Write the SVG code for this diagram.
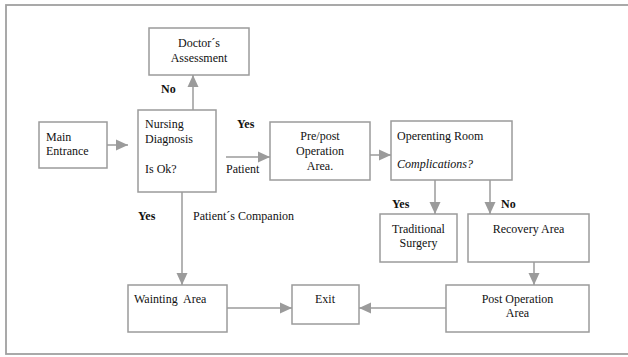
<svg xmlns="http://www.w3.org/2000/svg" width="628" height="357" viewBox="0 0 628 357">
<style>
.box{fill:#fff;stroke:#9b9b9b;stroke-width:1.5}
.frame{fill:#fff;stroke:#a0a0a0;stroke-width:1.8}
.ln{fill:none;stroke:#9b9b9b;stroke-width:1.5}
text{font-family:'Liberation Serif',serif;font-size:12px;fill:#111}
.b{font-weight:bold}
.i{font-style:italic}
.m{text-anchor:middle}
</style>
<defs>
<marker id="ah" markerWidth="12" markerHeight="12" refX="12" refY="6" orient="auto" markerUnits="userSpaceOnUse">
<path d="M0,0.5 L12,6 L0,11.5 Z" fill="#9b9b9b"/>
</marker>
</defs>
<rect class="frame" x="6" y="5" width="630" height="349"/>
<g id="connectors">
<line class="ln" x1="107" y1="145" x2="128" y2="145" marker-end="url(#ah)"/>
<line class="ln" x1="193" y1="110" x2="193" y2="75" marker-end="url(#ah)"/>
<line class="ln" x1="226" y1="157" x2="270" y2="157" marker-end="url(#ah)"/>
<line class="ln" x1="370" y1="155" x2="391" y2="155" marker-end="url(#ah)"/>
<line class="ln" x1="435" y1="180" x2="435" y2="214" marker-end="url(#ah)"/>
<line class="ln" x1="490" y1="180" x2="490" y2="214" marker-end="url(#ah)"/>
<line class="ln" x1="534" y1="262" x2="534" y2="285" marker-end="url(#ah)"/>
<line class="ln" x1="182" y1="192" x2="182" y2="285" marker-end="url(#ah)"/>
<line class="ln" x1="227" y1="308" x2="292" y2="308" marker-end="url(#ah)"/>
<line class="ln" x1="446" y1="308" x2="359" y2="308" marker-end="url(#ah)"/>
<text class="b" x="161" y="93">No</text>
<text class="b" x="237" y="128">Yes</text>
<text x="226" y="173">Patient</text>
<text class="b" x="392" y="208">Yes</text>
<text class="b" x="501" y="208">No</text>
<text class="b" x="138" y="220">Yes</text>
<text x="193" y="220">Patient´s Companion</text>
</g>
<g id="doctor">
<rect class="box" x="149" y="28" width="100" height="47"/>
<text class="m" x="199" y="47">Doctor´s</text>
<text class="m" x="199" y="62">Assessment</text>
</g>
<g id="main-entrance">
<rect class="box" x="39" y="122" width="68" height="46"/>
<text x="46" y="141">Main</text>
<text x="46" y="155">Entrance</text>
</g>
<g id="nursing">
<rect class="box" x="138" y="110" width="78" height="82"/>
<text x="145" y="128">Nursing</text>
<text x="145" y="143">Diagnosis</text>
<text x="145" y="173">Is Ok?</text>
</g>
<g id="prepost">
<rect class="box" x="270" y="122" width="100" height="58"/>
<text class="m" x="320" y="140">Pre/post</text>
<text class="m" x="320" y="155">Operation</text>
<text class="m" x="320" y="170">Area.</text>
</g>
<g id="operating">
<rect class="box" x="391" y="121" width="121" height="59"/>
<text x="397" y="140">Operenting Room</text>
<text class="i" x="397" y="168">Complications?</text>
</g>
<g id="traditional">
<rect class="box" x="380" y="214" width="77" height="48"/>
<text class="m" x="418.5" y="233">Traditional</text>
<text class="m" x="418.5" y="247">Surgery</text>
</g>
<g id="recovery">
<rect class="box" x="468" y="214" width="121" height="48"/>
<text class="m" x="528.5" y="233">Recovery Area</text>
</g>
<g id="post-operation">
<rect class="box" x="446" y="285" width="143" height="47"/>
<text class="m" x="517.5" y="303">Post Operation</text>
<text class="m" x="517.5" y="317">Area</text>
</g>
<g id="exit">
<rect class="box" x="292" y="285" width="67" height="39"/>
<text x="315" y="303">Exit</text>
</g>
<g id="waiting">
<rect class="box" x="128" y="285" width="99" height="47"/>
<text x="134" y="303" xml:space="preserve">Wainting  Area</text>
</g>
</svg>
